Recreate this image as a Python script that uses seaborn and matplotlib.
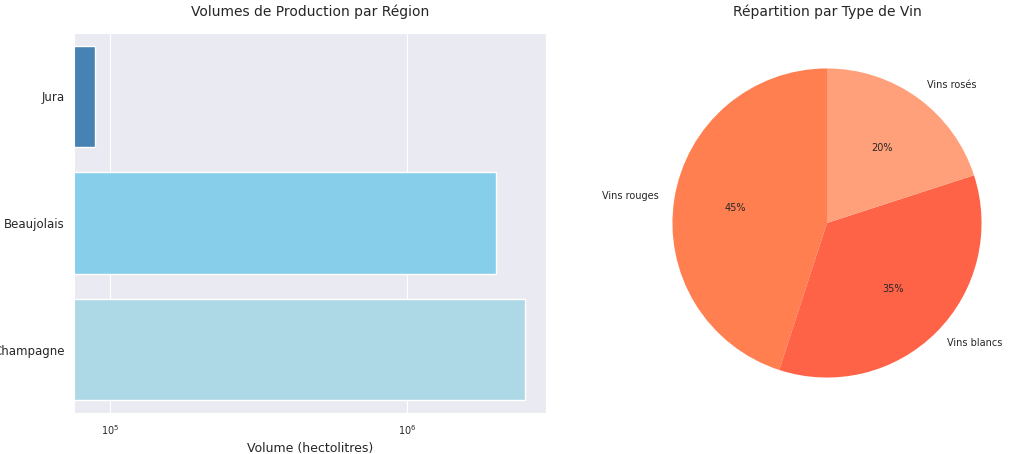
import matplotlib.pyplot as plt
import seaborn as sns

sns.set_style('darkgrid')

regions = ['Jura', 'Beaujolais', 'Champagne']
volumes = [8.9e4, 2.0e6, 2.5e6]
bar_colors = ['#4682B4', '#87CEEB', '#ADD8E6']

wine_types = ['Vins rouges', 'Vins blancs', 'Vins rosés']
shares = [45, 35, 20]
pie_colors = ['#FF7F50', '#FF6347', '#FFA07A']

fig = plt.figure(figsize=(10.24, 4.54), dpi=100)
ax1 = fig.add_axes([74/1024, 1 - 413/454, 472/1024, 380/454])
ax2 = fig.add_axes([(827 - 260)/1024, 1 - (223 + 170)/454, 520/1024, 340/454])

sns.barplot(x=volumes, y=regions, hue=regions, palette=bar_colors, orient='h',
            legend=False, ax=ax1, width=0.8, saturation=1)
ax1.set_xscale('log')
ax1.set_xlim(7.57e4, 2.94e6)
ax1.set_title('Volumes de Production par Région', fontsize=10, pad=12)
ax1.set_xlabel('Volume (hectolitres)', fontsize=9)
ax1.tick_params(axis='y', labelsize=8.5, pad=3)
ax1.tick_params(axis='x', labelsize=7)

ax2.pie(shares, labels=wine_types, colors=pie_colors, autopct='%1.0f%%',
        startangle=90, textprops={'fontsize': 7}, radius=1.0,
        wedgeprops={'linewidth': 0})
ax2.set_aspect('equal')
ax2.set_xlim(-1.1, 1.1)
ax2.set_ylim(-1.1, 1.1)
fig.text(827/1024, 1 - 12/454, 'Répartition par Type de Vin', ha='center',
         va='center', fontsize=10)

plt.savefig('out.png', dpi=100)
